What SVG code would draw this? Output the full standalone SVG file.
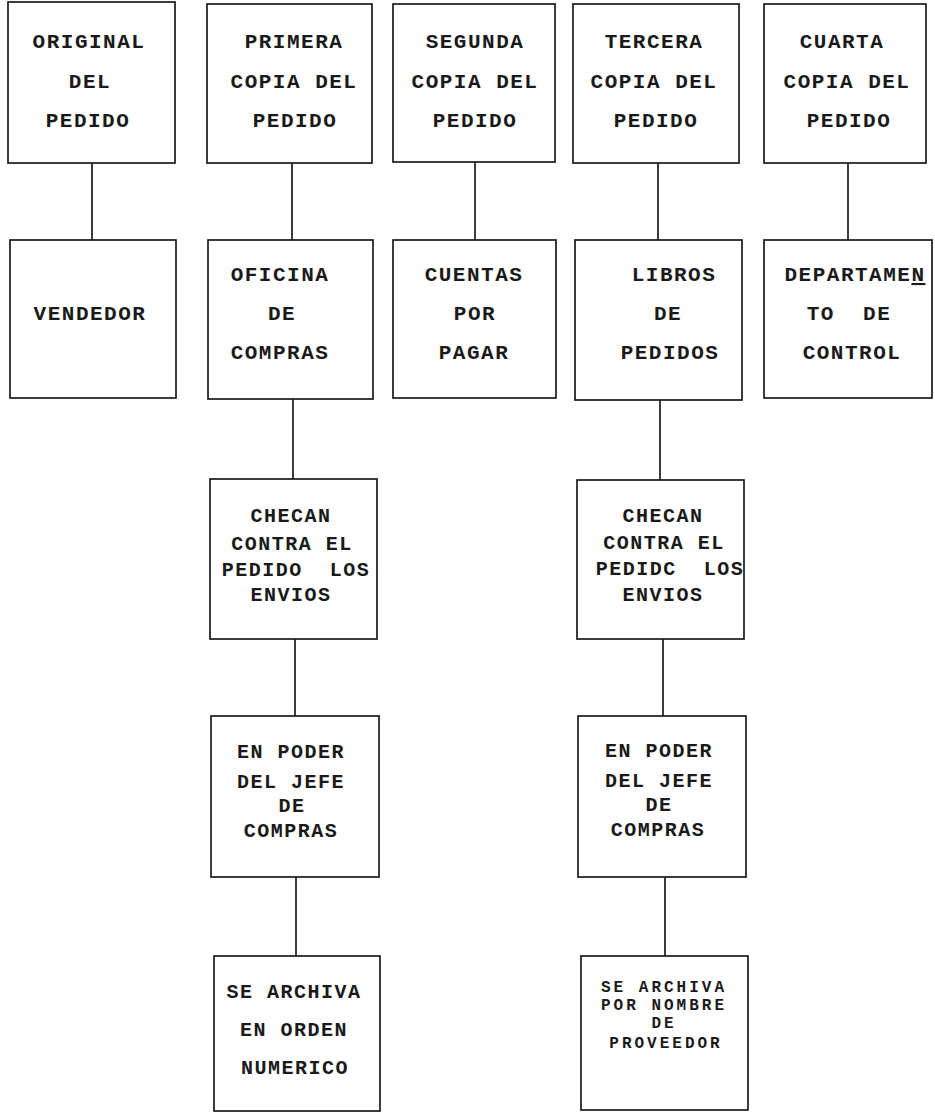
<svg xmlns="http://www.w3.org/2000/svg" width="935" height="1112" viewBox="0 0 935 1112">
<style>
.box{fill:none;stroke:#1a1a1a;stroke-width:1.7}
.c{stroke:#1a1a1a;stroke-width:1.7;fill:none}
text{font-family:"Liberation Mono","Courier New",monospace;font-weight:bold;fill:#1a1a1a;text-anchor:middle}
.a{font-size:21px;letter-spacing:1.5px}
.b{font-size:20px;letter-spacing:1.5px}
.s{font-size:16px;letter-spacing:3px}
</style>
<rect width="935" height="1112" fill="#ffffff"/>
<g id="connectors">
<line class="c" x1="92" y1="163" x2="92" y2="240"/>
<line class="c" x1="292" y1="163" x2="292" y2="240"/>
<line class="c" x1="475" y1="162" x2="475" y2="240"/>
<line class="c" x1="658" y1="163" x2="658" y2="240"/>
<line class="c" x1="848" y1="163" x2="848" y2="240"/>
<line class="c" x1="293" y1="399" x2="293" y2="479"/>
<line class="c" x1="660" y1="400" x2="660" y2="480"/>
<line class="c" x1="295" y1="639" x2="295" y2="716"/>
<line class="c" x1="663" y1="639" x2="663" y2="716"/>
<line class="c" x1="296" y1="877" x2="296" y2="956"/>
<line class="c" x1="665" y1="877" x2="665" y2="956"/>
</g>
<g id="n1"><rect class="box" x="8" y="2" width="167" height="161"/>
<text class="a" x="89" y="48">ORIGINAL</text><text class="a" x="90" y="88">DEL</text><text class="a" x="88" y="127">PEDIDO</text></g>
<g id="n2"><rect class="box" x="207" y="4" width="165" height="159"/>
<text class="a" x="294" y="48">PRIMERA</text><text class="a" x="294" y="88">COPIA DEL</text><text class="a" x="295" y="127">PEDIDO</text></g>
<g id="n3"><rect class="box" x="393" y="4" width="162" height="158"/>
<text class="a" x="475" y="48">SEGUNDA</text><text class="a" x="475" y="88">COPIA DEL</text><text class="a" x="475" y="127">PEDIDO</text></g>
<g id="n4"><rect class="box" x="573" y="4" width="166" height="159"/>
<text class="a" x="654" y="48">TERCERA</text><text class="a" x="654" y="88">COPIA DEL</text><text class="a" x="656" y="127">PEDIDO</text></g>
<g id="n5"><rect class="box" x="764" y="4" width="162" height="159"/>
<text class="a" x="842" y="48">CUARTA</text><text class="a" x="847" y="88">COPIA DEL</text><text class="a" x="849" y="127">PEDIDO</text></g>
<g id="n6"><rect class="box" x="10" y="240" width="166" height="158"/>
<text class="a" x="90" y="320">VENDEDOR</text></g>
<g id="n7"><rect class="box" x="208" y="240" width="165" height="159"/>
<text class="a" x="280" y="281">OFICINA</text><text class="a" x="282" y="320">DE</text><text class="a" x="280" y="359">COMPRAS</text></g>
<g id="n8"><rect class="box" x="393" y="240" width="163" height="158"/>
<text class="a" x="474" y="281">CUENTAS</text><text class="a" x="475" y="320">POR</text><text class="a" x="474" y="359">PAGAR</text></g>
<g id="n9"><rect class="box" x="575" y="240" width="167" height="160"/>
<text class="a" x="674" y="281">LIBROS</text><text class="a" x="668" y="320">DE</text><text class="a" x="670" y="359">PEDIDOS</text></g>
<g id="n10"><rect class="box" x="764" y="240" width="168" height="158"/>
<text class="a" x="855" y="281">DEPARTAME<tspan text-decoration="underline">N</tspan></text><text class="a" x="849" y="320" xml:space="preserve">TO  DE</text><text class="a" x="852" y="359">CONTROL</text></g>
<g id="n11"><rect class="box" x="210" y="479" width="167" height="160"/>
<text class="b" x="291" y="522">CHECAN</text><text class="b" x="292" y="550">CONTRA EL</text><text class="b" x="296" y="576" xml:space="preserve">PEDIDO  LOS</text><text class="b" x="291" y="601">ENVIOS</text></g>
<g id="n12"><rect class="box" x="577" y="480" width="167" height="159"/>
<text class="b" x="663" y="522">CHECAN</text><text class="b" x="664" y="549">CONTRA EL</text><text class="b" x="670" y="575" xml:space="preserve">PEDIDC  LOS</text><text class="b" x="663" y="601">ENVIOS</text></g>
<g id="n13"><rect class="box" x="211" y="716" width="168" height="161"/>
<text class="b" x="291" y="758">EN PODER</text><text class="b" x="291" y="788">DEL JEFE</text><text class="b" x="292" y="812">DE</text><text class="b" x="291" y="837">COMPRAS</text></g>
<g id="n14"><rect class="box" x="578" y="716" width="168" height="161"/>
<text class="b" x="659" y="757">EN PODER</text><text class="b" x="659" y="787">DEL JEFE</text><text class="b" x="659" y="811">DE</text><text class="b" x="658" y="836">COMPRAS</text></g>
<g id="n15"><rect class="box" x="214" y="956" width="166" height="155"/>
<text class="b" x="294" y="998">SE ARCHIVA</text><text class="b" x="294" y="1036">EN ORDEN</text><text class="b" x="295" y="1074">NUMERICO</text></g>
<g id="n16"><rect class="box" x="581" y="956" width="167" height="154"/>
<text class="s" x="664" y="992">SE ARCHIVA</text><text class="s" x="664" y="1010">POR NOMBRE</text><text class="s" x="664" y="1028">DE</text><text class="s" x="666" y="1048">PROVEEDOR</text></g>
</svg>
